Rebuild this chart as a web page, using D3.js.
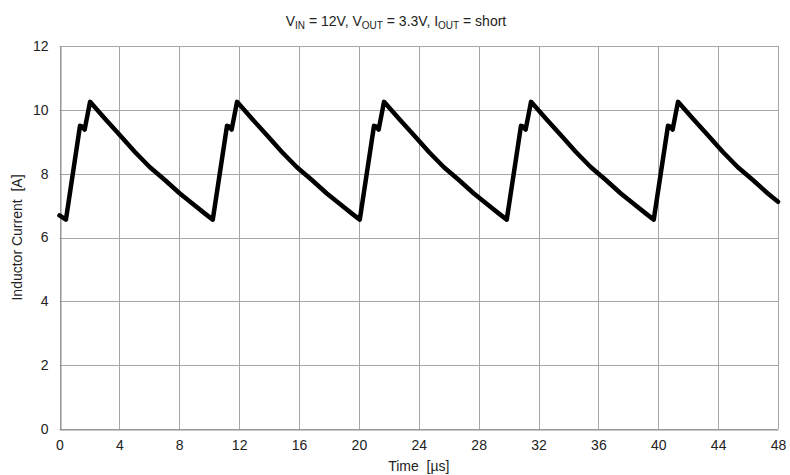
<!DOCTYPE html>
<html>
<head>
<meta charset="utf-8">
<script src="https://cdn.jsdelivr.net/npm/d3@7"></script>
<style>
  body { margin: 0; background: #fff; }
  text { font-family: "Liberation Sans", Arial, Helvetica, sans-serif; fill: #222; white-space: pre; }
</style>
</head>
<body>
<svg id="chart" width="790" height="475"></svg>
<script>
// waveform (time in us, current in A)
var timeUs = [0, 0.43, 1.37, 1.49, 1.68, 2.04,
  3.04, 4.04, 5.04, 6.04, 7.04, 8.04, 9.04, 9.74, 10.24, 11.19, 11.31, 11.50, 11.86,
  12.86, 13.86, 14.86, 15.86, 16.86, 17.86, 18.86, 19.56, 20.06, 21.01, 21.13, 21.32, 21.68,
  22.68, 23.68, 24.68, 25.68, 26.68, 27.68, 28.68, 29.38, 29.88, 30.83, 30.95, 31.14, 31.50,
  32.50, 33.50, 34.50, 35.50, 36.50, 37.50, 38.50, 39.20, 39.70, 40.65, 40.77, 40.96, 41.32,
  42.32, 43.32, 44.32, 45.32, 46.32, 47.32, 48];
var currentA = [6.69, 6.56, 9.50, 9.48, 9.38, 10.25,
  9.72, 9.20, 8.68, 8.20, 7.80, 7.38, 7.00, 6.74, 6.56, 9.50, 9.48, 9.38, 10.25,
  9.72, 9.20, 8.68, 8.20, 7.80, 7.38, 7.00, 6.74, 6.56, 9.50, 9.48, 9.38, 10.25,
  9.72, 9.20, 8.68, 8.20, 7.80, 7.38, 7.00, 6.74, 6.56, 9.50, 9.48, 9.38, 10.25,
  9.72, 9.20, 8.68, 8.20, 7.80, 7.38, 7.00, 6.74, 6.56, 9.50, 9.48, 9.38, 10.25,
  9.72, 9.20, 8.68, 8.20, 7.80, 7.38, 7.12];
var xTicks = [0, 4, 8, 12, 16, 20, 24, 28, 32, 36, 40, 44, 48];
var yTicks = [0, 2, 4, 6, 8, 10, 12];

var margin = {left: 59.5, right: 12, top: 46, bottom: 46};
var width = 790, height = 475;

var svg = d3.select("svg#chart");

var x = d3.scaleLinear().domain([0, 48]).range([margin.left, width - margin.right]);
var y = d3.scaleLinear().domain([0, 12]).range([height - margin.bottom, margin.top]);

// grid
var grid = svg.append("g").attr("id", "grid");
grid.selectAll("line.v").data(xTicks).enter().append("line")
  .attr("class", "v")
  .attr("x1", d => Math.round(x(d)) + 0.5).attr("x2", d => Math.round(x(d)) + 0.5)
  .attr("y1", y(12)).attr("y2", y(0))
  .attr("stroke", "#a6a6a6").attr("stroke-width", 1);
grid.selectAll("line.h").data(yTicks).enter().append("line")
  .attr("class", "h")
  .attr("x1", x(0)).attr("x2", x(48))
  .attr("y1", d => Math.round(y(d)) + 0.5).attr("y2", d => Math.round(y(d)) + 0.5)
  .attr("stroke", "#a6a6a6").attr("stroke-width", 1);

// axes
var xAxis = svg.append("g")
  .attr("transform", translate(0, Math.round(y(0)) + 0.5))
  .call(d3.axisBottom(x).tickValues(xTicks).tickSize(0).tickPadding(11));
var yAxis = svg.append("g")
  .attr("transform", translate(Math.round(x(0)) + 0.5, 0))
  .call(d3.axisLeft(y).tickValues(yTicks).tickSize(0).tickPadding(12));
[xAxis, yAxis].forEach(function(a) {
  a.select(".domain").attr("stroke", "#8c8c8c");
  a.selectAll("text").style("font-size", "14px").style("font-family", "Liberation Sans, Arial, sans-serif").attr("fill", "#222");
});

// trace
var pts = timeUs.map((t, i) => [t, currentA[i]]);
var line = d3.line().x(d => x(d[0])).y(d => y(d[1]));
svg.append("path")
  .datum(pts)
  .attr("d", line)
  .attr("fill", "none")
  .attr("stroke", "#000")
  .attr("stroke-width", 4.5)
  .attr("stroke-linejoin", "round")
  .attr("stroke-linecap", "round");

// labels
svg.append("text")
  .attr("x", x(24)).attr("y", 471)
  .attr("text-anchor", "middle").style("font-size", "14px")
  .text("Time  [µs]");

svg.append("text")
  .attr("transform", translate(22, y(6)) + " rotate(-90)")
  .attr("text-anchor", "middle").style("font-size", "14px")
  .text("Inductor Current  [A]");

var title = svg.append("text")
  .attr("x", 396).attr("y", 26)
  .attr("text-anchor", "middle").style("font-size", "14px");
title.append("tspan").text("V");
title.append("tspan").attr("dy", 3).style("font-size", "10px").text("IN");
title.append("tspan").attr("dy", -3).text(" = 12V, V");
title.append("tspan").attr("dy", 3).style("font-size", "10px").text("OUT");
title.append("tspan").attr("dy", -3).text(" = 3.3V, I");
title.append("tspan").attr("dy", 3).style("font-size", "10px").text("OUT");
title.append("tspan").attr("dy", -3).text(" = short");

function translate(x, y) {
  return 'translate(' + String(x) + ',' + String(y) + ')';
}
</script>
</body>
</html>
